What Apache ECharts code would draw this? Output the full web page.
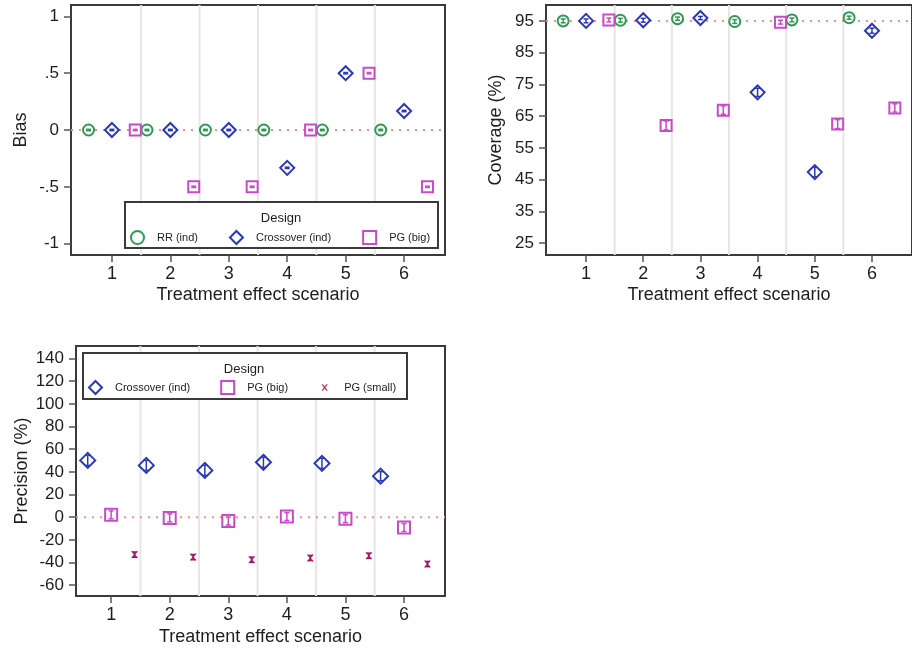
<!DOCTYPE html>
<html>
<head>
<meta charset="UTF-8">
<title>Treatment effect scenarios</title>
<script src="https://cdn.jsdelivr.net/npm/echarts@6.0.0/dist/echarts.min.js"></script>
<style>
  html, body { margin: 0; padding: 0; background: #fff; }
  #main { width: 912px; height: 650px; }
</style>
</head>
<body>
<div id="main"></div>
<script>
// scenarios on the x axis
var scenarios = [1, 2, 3, 4, 5, 6];
var gridCuts = [1.5, 2.5, 3.5, 4.5, 5.5];

// Bias panel
var biasRR = [0, 0, 0, 0, 0, 0];
var biasCross = [0, 0, 0, -0.333, 0.5, 0.167];
var biasPGbig = [0, -0.5, -0.5, 0, 0.5, -0.5];
var biasErr = [0.006, 0.006, 0.006, 0.006, 0.006, 0.006];
var biasTicks = [-1, -0.5, 0, 0.5, 1];

// Coverage panel (%)
var covRR = [95, 95.2, 95.7, 94.8, 95.3, 96];
var covCross = [95, 95.2, 95.9, 72.5, 47.4, 91.9];
var covPGbig = [95.3, 62.1, 66.9, 94.6, 62.5, 67.6];
var covRRerr = [0.6, 0.6, 0.5, 0.6, 0.6, 0.5];
var covCrossErr = [0.6, 0.6, 0.5, 1.3, 1.5, 0.8];
var covPGbigErr = [0.6, 1.4, 1.3, 0.6, 1.4, 1.3];
var covTicks = [25, 35, 45, 55, 65, 75, 85, 95];

// Precision panel (%)
var precCross = [50.1, 45.7, 41.3, 48.4, 47.5, 36.2];
var precPGbig = [2.1, -0.6, -3.4, 0.6, -1.3, -9.1];
var precPGsmall = [-33, -35.2, -37.5, -36, -34, -41.3];
var precCrossErr = [4.5, 4.5, 4.5, 4.5, 4.5, 4];
var precPGbigErr = [3.5, 3.5, 3.5, 3.5, 3.5, 3.5];
var precPGsmallErr = [2.3, 2.3, 2.3, 2.3, 2.3, 2.3];
var precTicks = [-60, -40, -20, 0, 20, 40, 60, 80, 100, 120, 140];

var GREEN = '#2e9a50', BLUE = '#2a38b8', MAGENTA = '#c94ac9', MAROON = '#a3135f';
var TXT = '#1e1e1e', FRAME = '#3a3a3a';
var XPATH = 'path://M0,0 L2,0 L5,3 L8,0 L10,0 L6,5 L10,10 L8,10 L5,7 L2,10 L0,10 L4,5 Z';
// same cross, padded so the legend draws it small
var XICON = 'path://M0,0 L0.01,0 L0,0.01 Z M20,20 L19.99,20 L20,19.99 Z M5,5 L7.4,5 L10,8 L12.6,5 L15,5 L11.4,10 L15,15 L12.6,15 L10,12 L7.4,15 L5,15 L8.6,10 Z';

function pts(vals, off) {
    return vals.map(function (v, i) { return [scenarios[i] + off, v]; });
}
function bars(vals, err, off) {
    return vals.map(function (v, i) { return [scenarios[i] + off, v, v - err[i], v + err[i]]; });
}

function errRender(color) {
    return function (params, api) {
        var x = api.value(0);
        var a = api.coord([x, api.value(2)]);
        var b = api.coord([x, api.value(3)]);
        var st = { stroke: color, lineWidth: 1.5 };
        return {
            type: 'group',
            children: [
                { type: 'line', shape: { x1: a[0], y1: a[1], x2: b[0], y2: b[1] }, style: st },
                { type: 'line', shape: { x1: a[0] - 2.5, y1: a[1], x2: a[0] + 2.5, y2: a[1] }, style: st },
                { type: 'line', shape: { x1: b[0] - 2.5, y1: b[1], x2: b[0] + 2.5, y2: b[1] }, style: st }
            ]
        };
    };
}

function scatter(name, idx, data, symbol, size, color, filled) {
    return {
        name: name, type: 'scatter', xAxisIndex: idx, yAxisIndex: idx, z: 5,
        symbol: symbol, symbolSize: size, data: data,
        itemStyle: filled ? { color: color } : { color: '#fff', borderColor: color, borderWidth: 2, opacity: 1 },
        emphasis: { disabled: true }
    };
}
function errSeries(idx, data, color) {
    return {
        type: 'custom', xAxisIndex: idx, yAxisIndex: idx, z: 6, silent: true,
        dimensions: ['x', 'y', 'lo', 'hi'], encode: { x: 0, y: 1 },
        renderItem: errRender(color), data: data
    };
}
// light vertical separators between scenarios
function cutSeries(idx) {
    return {
        type: 'custom', xAxisIndex: idx, yAxisIndex: idx, z: 1, silent: true,
        data: gridCuts.map(function (c) { return [c]; }),
        encode: { x: 0 },
        renderItem: function (params, api) {
            var cs = params.coordSys;
            var x = api.coord([api.value(0), 0])[0];
            return { type: 'line', shape: { x1: x, y1: cs.y, x2: x, y2: cs.y + cs.height },
                     style: { stroke: '#e6e6e6', lineWidth: 2 } };
        }
    };
}
// dotted reference line
function refSeries(idx, refY) {
    return {
        type: 'custom', xAxisIndex: idx, yAxisIndex: idx, z: 2, silent: true,
        data: [[refY]],
        encode: { y: 0 },
        renderItem: function (params, api) {
            var cs = params.coordSys;
            var y = api.coord([1, api.value(0)])[1];
            return { type: 'line', shape: { x1: cs.x, y1: y, x2: cs.x + cs.width, y2: y },
                     style: { stroke: '#ff8a8a', lineWidth: 2, lineDash: [2, 6] } };
        }
    };
}

function xAx(idx, min, max, gap) {
    return {
        gridIndex: idx, type: 'value', min: min, max: max,
        name: 'Treatment effect scenario', nameLocation: 'middle', nameGap: gap,
        nameTextStyle: { fontFamily: 'Liberation Sans', fontSize: 18, color: TXT },
        axisLine: { show: false, onZero: false }, splitLine: { show: false },
        axisTick: { customValues: scenarios, length: 7, lineStyle: { color: '#555', width: 1.5 } },
        axisLabel: { customValues: scenarios, margin: 10, fontFamily: 'Liberation Sans', fontSize: 18, color: TXT }
    };
}
function yAx(idx, min, max, ticks, name, gap, fmt) {
    return {
        gridIndex: idx, type: 'value', min: min, max: max,
        name: name, nameLocation: 'middle', nameGap: gap, nameRotate: 90,
        nameTextStyle: { fontFamily: 'Liberation Sans', fontSize: 18, color: TXT },
        axisLine: { show: false, onZero: false }, splitLine: { show: false },
        axisTick: { customValues: ticks, length: 7, lineStyle: { color: '#555', width: 1.5 } },
        axisLabel: { customValues: ticks, margin: 12, fontFamily: 'Liberation Sans', fontSize: 17, color: TXT, formatter: fmt }
    };
}
function biasFmt(v) {
    if (v === 0) return '0';
    return (v < 0 ? '-' : '') + String(Math.abs(v)).replace(/^0/, '');
}

var gridBase = { show: true, borderColor: FRAME, borderWidth: 2, backgroundColor: '#fff' };
var legendText = { fontFamily: 'Liberation Sans', fontSize: 11, color: TXT, padding: [0, 0, 0, 8] };

var option = {
    animation: false,
    backgroundColor: '#fff',
    grid: [
        Object.assign({ left: 71, top: 5, width: 374, height: 250 }, gridBase),
        Object.assign({ left: 546, top: 5, width: 375, height: 250 }, gridBase),
        Object.assign({ left: 76, top: 346, width: 369, height: 250 }, gridBase)
    ],
    xAxis: [xAx(0, 0.3, 6.7, 31), xAx(1, 0.3, 6.7, 31), xAx(2, 0.4, 6.7, 32)],
    yAxis: [
        yAx(0, -1.1, 1.1, biasTicks, 'Bias', 41, biasFmt),
        yAx(1, 21.3, 100, covTicks, 'Coverage (%)', 41),
        yAx(2, -69.5, 151, precTicks, 'Precision (%)', 45)
    ],
    graphic: [
        { type: 'rect', z: 50, shape: { x: 125, y: 202, width: 313, height: 46 }, style: { fill: '#fff', stroke: FRAME, lineWidth: 2 } },
        { type: 'text', z: 51, x: 281, y: 218, style: { text: 'Design', fontFamily: 'Liberation Sans', fontSize: 13, fill: TXT, align: 'center', verticalAlign: 'middle' } },
        { type: 'rect', z: 50, shape: { x: 83, y: 353, width: 324, height: 46 }, style: { fill: '#fff', stroke: FRAME, lineWidth: 2 } },
        { type: 'text', z: 51, x: 244, y: 369, style: { text: 'Design', fontFamily: 'Liberation Sans', fontSize: 13, fill: TXT, align: 'center', verticalAlign: 'middle' } }
    ],
    legend: [
        { z: 100, left: 130, top: 230, padding: 0, itemGap: 31, itemWidth: 13, itemHeight: 13,
          data: ['RR (ind)', 'Crossover (ind)', 'PG (big)'], textStyle: legendText, selectedMode: false },
        { z: 100, left: 88, top: 380, padding: 0, itemGap: 30, itemWidth: 13, itemHeight: 13,
          data: ['Crossover (ind)', 'PG (big)', { name: 'PG (small)', icon: XICON }], textStyle: legendText, selectedMode: false }
    ],
    series: [
        // Bias
        cutSeries(0), refSeries(0, 0),
        scatter('RR (ind)', 0, pts(biasRR, -0.4), 'circle', 11, GREEN),
        scatter('Crossover (ind)', 0, pts(biasCross, 0), 'diamond', 14, BLUE),
        scatter('PG (big)', 0, pts(biasPGbig, 0.4), 'rect', 11, MAGENTA),
        errSeries(0, bars(biasRR, biasErr, -0.4), GREEN),
        errSeries(0, bars(biasCross, biasErr, 0), BLUE),
        errSeries(0, bars(biasPGbig, biasErr, 0.4), MAGENTA),
        // Coverage
        cutSeries(1), refSeries(1, 95),
        scatter('RR (ind)', 1, pts(covRR, -0.4), 'circle', 11, GREEN),
        scatter('Crossover (ind)', 1, pts(covCross, 0), 'diamond', 14, BLUE),
        scatter('PG (big)', 1, pts(covPGbig, 0.4), 'rect', 11, MAGENTA),
        errSeries(1, bars(covRR, covRRerr, -0.4), GREEN),
        errSeries(1, bars(covCross, covCrossErr, 0), BLUE),
        errSeries(1, bars(covPGbig, covPGbigErr, 0.4), MAGENTA),
        // Precision
        cutSeries(2), refSeries(2, 0),
        scatter('Crossover (ind)', 2, pts(precCross, -0.4), 'diamond', 15, BLUE),
        scatter('PG (big)', 2, pts(precPGbig, 0), 'rect', 12, MAGENTA),
        scatter('PG (small)', 2, pts(precPGsmall, 0.4), XPATH, 7, MAROON, true),
        errSeries(2, bars(precCross, precCrossErr, -0.4), BLUE),
        errSeries(2, bars(precPGbig, precPGbigErr, 0), MAGENTA),
        errSeries(2, bars(precPGsmall, precPGsmallErr, 0.4), MAROON)
    ]
};

var myChart = echarts.init(document.getElementById('main'));
myChart.setOption(option);
</script>
</body>
</html>
